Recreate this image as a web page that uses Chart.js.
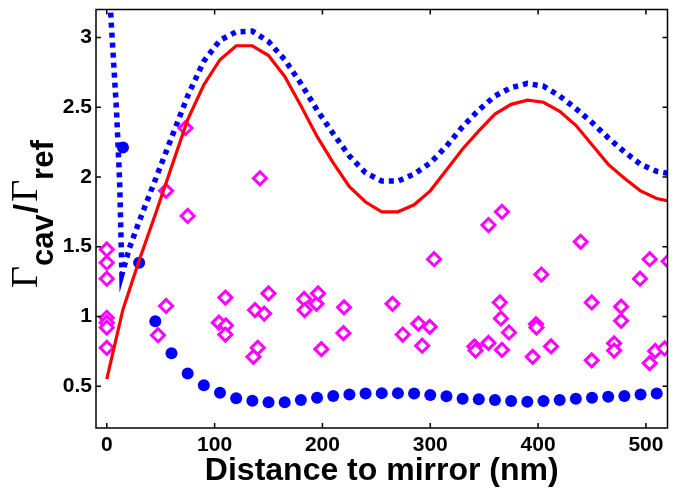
<!DOCTYPE html>
<html>
<head>
<meta charset="utf-8">
<script src="https://cdn.jsdelivr.net/npm/chart.js@4/dist/chart.umd.min.js"></script>
<style>
  html, body { margin: 0; padding: 0; background: #fff; }
  #plot { display: block; }
</style>
</head>
<body>
<canvas id="plot" width="677" height="490"></canvas>
<script>
// Radiative decay rate (red solid curve), 15 nm grid
const FIT_X = [0, 15, 30, 45, 60, 75, 90, 105, 120, 135, 150, 165, 180, 195, 210, 225, 240, 255,
               270, 285, 300, 315, 330, 345, 360, 375, 390, 405, 420, 435, 450, 465, 480, 495, 510, 525];
const FIT_RATE = [0.55, 1.05, 1.40, 1.73, 2.07, 2.41, 2.66, 2.84, 2.94, 2.94, 2.87, 2.72, 2.51, 2.29, 2.10, 1.93, 1.82, 1.75,
                  1.75, 1.80, 1.90, 2.05, 2.20, 2.33, 2.45, 2.52, 2.55, 2.535, 2.47, 2.37, 2.23, 2.09, 1.99, 1.90, 1.845, 1.82];

// Total decay rate including quenching near the mirror (blue dotted curve)
const TOTAL_X = [0, 4, 9, 12, 14, 21, 30, 45, 60, 75, 90, 105, 120, 135, 150, 165, 180, 195, 210, 225,
                 240, 255, 270, 285, 300, 315, 330, 345, 360, 375, 390, 405, 420, 435, 450, 465, 480, 495, 510, 525];
const TOTAL_RATE = [3.75, 3.12, 2.48, 1.95, 1.30, 1.49, 1.68, 1.98, 2.28, 2.58, 2.83, 2.98, 3.04, 3.045, 2.97, 2.84, 2.67, 2.48, 2.31, 2.15,
                    2.03, 1.97, 1.97, 2.02, 2.10, 2.22, 2.36, 2.48, 2.58, 2.64, 2.67, 2.65, 2.58, 2.49, 2.39, 2.28, 2.18, 2.09, 2.04, 2.02];

// Simulated rate (blue filled circles)
const SIM_X = [15, 30, 45, 60, 75, 90, 105, 120, 135, 150, 165, 180, 195, 210, 225, 240, 255, 270,
               285, 300, 315, 330, 345, 360, 375, 390, 405, 420, 435, 450, 465, 480, 495, 510, 525];
const SIM_RATE = [2.21, 1.385, 0.965, 0.736, 0.59, 0.507, 0.453, 0.413, 0.396, 0.385, 0.385, 0.40, 0.417, 0.43, 0.44, 0.448, 0.45, 0.45,
                  0.448, 0.436, 0.427, 0.41, 0.406, 0.40, 0.393, 0.389, 0.393, 0.40, 0.41, 0.417, 0.424, 0.43, 0.44, 0.448, 0.452];

// Measured emitters (magenta open diamonds)
const MEAS_X = [0, 0, 0, 0, 0, 0, 0,
                47.5, 55, 55, 73, 75,
                104, 110, 110.5, 110,
                136, 137.5, 140, 142, 146, 150,
                183, 183.5, 194.5, 196, 199, 219.5, 220,
                265, 274.5, 289, 292.5, 299.5, 303.5,
                341, 342, 354, 354, 364.5, 365.5, 366.5, 366.5, 373,
                395, 398, 398.5, 403, 412, 439.5, 449.7, 449.7,
                470.5, 470.5, 477, 477, 494.5, 503.5, 503.5, 508.6, 517.3, 521];
const MEAS_RATE = [1.48, 1.385, 1.27, 0.99, 0.955, 0.92, 0.775,
                   0.865, 1.075, 1.90, 2.35, 1.72,
                   0.955, 1.135, 0.935, 0.87,
                   0.71, 1.045, 0.775, 1.99, 1.02, 1.165,
                   1.125, 1.045, 1.09, 1.165, 0.765, 0.88, 1.065,
                   1.09, 0.87, 0.948, 0.79, 0.925, 1.41,
                   0.785, 0.755, 1.655, 0.81, 1.10, 0.985, 1.75, 0.76, 0.885,
                   0.71, 0.945, 0.92, 1.30, 0.785, 1.535, 1.10, 0.685,
                   0.807, 0.755, 1.07, 0.968, 1.27, 1.41, 0.665, 0.752, 0.77, 1.395];

// Axis ticks and labels
const X_TICKS = [0, 100, 200, 300, 400, 500];
const Y_TICKS = [0.5, 1, 1.5, 2, 2.5, 3];
const X_LABEL = 'Distance to mirror (nm)';
const Y_LABEL = ['Γ', 'cav', '/', 'Γ', 'ref'];

const pts = (xs, ys) => xs.map((x, i) => ({ x: x, y: ys[i] }));
const SANS = 'Liberation Sans, Arial, Helvetica, sans-serif';
const SERIF = 'Liberation Serif, Times New Roman, serif';

// Closed box with inward tick marks on all four sides
const boxFrame = {
  id: 'boxFrame',
  afterDraw(chart) {
    const { ctx, chartArea: a, scales } = chart;
    const len = 5;
    ctx.save();
    ctx.strokeStyle = '#000';
    ctx.lineWidth = 1.5;
    ctx.beginPath();
    ctx.rect(a.left, a.top, a.right - a.left, a.bottom - a.top);
    X_TICKS.forEach(v => {
      const px = scales.x.getPixelForValue(v);
      ctx.moveTo(px, a.bottom); ctx.lineTo(px, a.bottom - len);
      ctx.moveTo(px, a.top); ctx.lineTo(px, a.top + len);
    });
    Y_TICKS.forEach(v => {
      const py = scales.y.getPixelForValue(v);
      ctx.moveTo(a.left, py); ctx.lineTo(a.left + len, py);
      ctx.moveTo(a.right, py); ctx.lineTo(a.right - len, py);
    });
    ctx.stroke();
    ctx.restore();
  }
};

// Rotated y-axis label with subscripts: Γ_cav / Γ_ref
const yLabel = {
  id: 'yLabel',
  afterDraw(chart) {
    const ctx = chart.ctx;
    const styles = [
      { font: '38px ' + SERIF, shift: 0, gap: 0 },
      { font: 'bold 31px ' + SANS, shift: 16, gap: 1 },
      { font: 'bold 34px ' + SANS, shift: 0, gap: 2 },
      { font: '38px ' + SERIF, shift: 0, gap: 0 },
      { font: 'bold 31px ' + SANS, shift: 16, gap: 0 }
    ];
    ctx.save();
    ctx.translate(37, 288);
    ctx.rotate(-Math.PI / 2);
    ctx.fillStyle = '#000';
    ctx.textBaseline = 'alphabetic';
    ctx.textAlign = 'left';
    let pos = 0;
    Y_LABEL.forEach((t, i) => {
      ctx.font = styles[i].font;
      ctx.fillText(t, pos, styles[i].shift);
      pos += ctx.measureText(t).width + styles[i].gap;
    });
    ctx.restore();
  }
};

new Chart(document.getElementById('plot'), {
  type: 'scatter',
  data: {
    datasets: [
      {
        label: 'radiative',
        data: pts(FIT_X, FIT_RATE),
        showLine: true,
        borderColor: '#ff0000',
        borderWidth: 3.2,
        pointRadius: 0,
        tension: 0
      },
      {
        label: 'measured',
        data: pts(MEAS_X, MEAS_RATE),
        showLine: false,
        pointStyle: 'rectRot',
        pointRadius: 6.5,
        pointBorderWidth: 3,
        pointBorderColor: '#ff00ff',
        pointBackgroundColor: '#ffffff'
      },
      {
        label: 'simulated',
        data: pts(SIM_X, SIM_RATE),
        showLine: false,
        pointStyle: 'circle',
        pointRadius: 6,
        pointBorderWidth: 0,
        pointBackgroundColor: '#0000ff'
      },
      {
        label: 'total',
        data: pts(TOTAL_X, TOTAL_RATE),
        showLine: true,
        borderColor: '#0000ff',
        borderWidth: 5.5,
        borderDash: [5, 5],
        borderCapStyle: 'butt',
        pointRadius: 0,
        tension: 0
      }
    ]
  },
  options: {
    responsive: false,
    animation: false,
    devicePixelRatio: 1,
    layout: { padding: { top: 5, right: 0, bottom: 0, left: 0 } },
    plugins: { legend: { display: false }, tooltip: { enabled: false } },
    scales: {
      x: {
        type: 'linear',
        min: -10,
        max: 520,
        grid: { display: false, drawTicks: false },
        border: { display: false },
        afterBuildTicks: s => { s.ticks = X_TICKS.map(v => ({ value: v })); },
        ticks: {
          color: '#000',
          font: { family: SANS, size: 21, weight: 'bold' },
          padding: 5,
          maxRotation: 0,
          autoSkip: false,
          callback: v => String(v)
        },
        title: {
          display: true,
          text: X_LABEL,
          color: '#000',
          font: { family: SANS, size: 32, weight: 'bold' },
          padding: { top: 0, bottom: 0 }
        },
        afterFit: s => { s.height = 62; s.paddingLeft = 0; s.paddingRight = 0; }
      },
      y: {
        type: 'linear',
        min: 0.2,
        max: 3.2,
        grid: { display: false, drawTicks: false },
        border: { display: false },
        afterBuildTicks: s => { s.ticks = Y_TICKS.map(v => ({ value: v })); },
        ticks: {
          color: '#000',
          font: { family: SANS, size: 21, weight: 'bold' },
          padding: 4,
          autoSkip: false,
          callback: v => String(v)
        },
        afterFit: s => { s.width = 96; s.paddingTop = 0; s.paddingBottom = 0; }
      }
    }
  },
  plugins: [boxFrame, yLabel]
});
</script>
</body>
</html>
